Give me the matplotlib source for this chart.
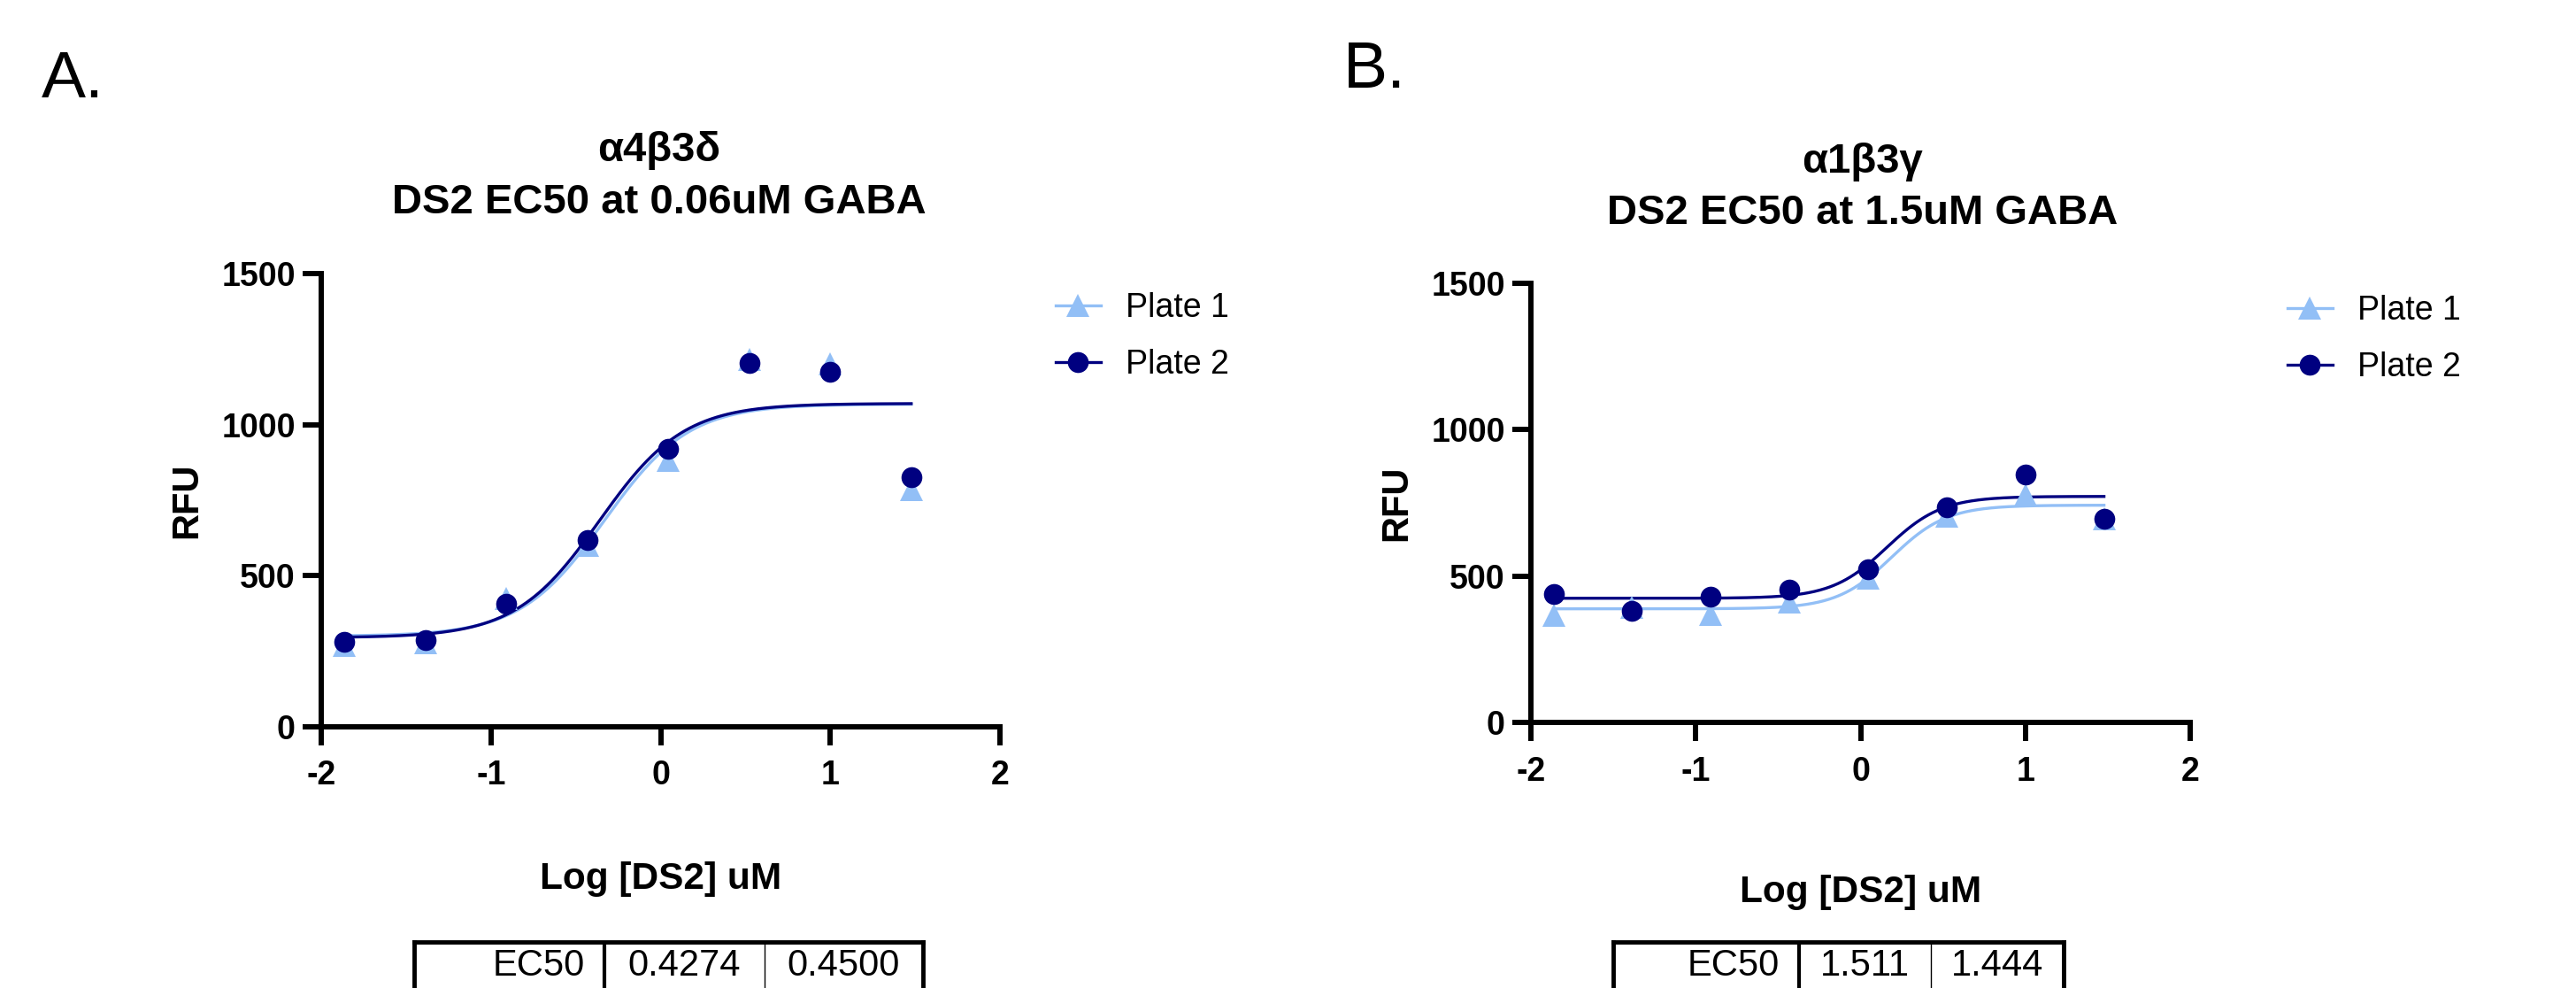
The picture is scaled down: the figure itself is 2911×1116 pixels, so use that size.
import numpy as np
import matplotlib
matplotlib.use("Agg")
import matplotlib.pyplot as plt
from matplotlib.lines import Line2D

# ---------------- data ----------------
log_conc = [-1.863, -1.386, -0.909, -0.431, 0.046, 0.523, 1.0, 1.477]

a_plate1 = [270, 278, 426, 600, 883, 1215, 1201, 785]
a_plate2 = [280, 287, 406, 617, 921, 1204, 1176, 825]
b_plate1 = [365, 392, 370, 410, 494, 705, 777, 695]
b_plate2 = [439, 380, 428, 454, 523, 735, 847, 697]

# 4-parameter logistic fit parameters: bottom, top, logEC50, hill slope
a_fit1 = [300, 1068, -0.33, 1.75]
a_fit2 = [295, 1070, -0.36, 1.75]
b_fit1 = [388, 742, 0.19, 2.6]
b_fit2 = [424, 772, 0.16, 2.6]

series_names = ["Plate 1", "Plate 2"]
a_title = ["α4β3δ", "DS2 EC50 at 0.06uM GABA"]
b_title = ["α1β3γ", "DS2 EC50 at 1.5uM GABA"]
table_row = "EC50"
a_ec50 = ["0.4274", "0.4500"]
b_ec50 = ["1.511", "1.444"]
x_ticks = [-2, -1, 0, 1, 2]
y_ticks = [0, 500, 1000, 1500]
panel_labels = ["A.", "B."]
x_label = "Log [DS2] uM"
y_label = "RFU"

# ---------------- style ----------------
W, H = 2911, 1116
DPI = 100
FONT = "Liberation Sans"
plt.rcParams["font.family"] = [FONT, "DejaVu Sans"]
C1 = "#92BFF6"
C2 = "#000080"
MS_TRI = 19
MS_CIR = 17

fig = plt.figure(figsize=(W / DPI, H / DPI), dpi=DPI)


def fx(px):
    return px / W


def fy(py):
    return 1 - py / H


def four_pl(x, p):
    bottom, top, logec, hill = p
    return bottom + (top - bottom) / (1 + 10 ** ((logec - x) * hill))


def panel(box, p1, p2, f1, f2, title, title_cx, title_y, xlabel_y, leg_xy, tab_box, ec50, letter_xy, letter):
    l, r, t, b = box
    ax = fig.add_axes([fx(l), fy(b), fx(r - l), (b - t) / H])
    ax.set_xlim(-2, 2)
    ax.set_ylim(0, 1500)
    for s in ["top", "right"]:
        ax.spines[s].set_visible(False)
    for s in ["left", "bottom"]:
        ax.spines[s].set_linewidth(4.3)
        ax.spines[s].set_capstyle("projecting")
    ax.set_xticks(x_ticks)
    ax.set_yticks(y_ticks)
    ax.set_xticklabels([str(v) for v in x_ticks])
    ax.tick_params(direction="out", length=15, width=4.3, labelsize=27)
    ax.tick_params(axis="x", pad=12)
    ax.tick_params(axis="y", pad=6)
    for lab in ax.get_xticklabels() + ax.get_yticklabels():
        lab.set_fontweight("bold")

    xs = np.linspace(min(log_conc), max(log_conc), 400)
    ax.plot(xs, four_pl(xs, f1), color=C1, lw=2.4, zorder=2)
    ax.plot(xs, four_pl(xs, f2), color=C2, lw=2.4, zorder=3)
    ax.plot(log_conc, p1, linestyle="none", marker="^", ms=MS_TRI, color=C1,
            markeredgewidth=0, zorder=4, clip_on=False)
    ax.plot(log_conc, p2, linestyle="none", marker="o", ms=MS_CIR, color=C2,
            markeredgewidth=0, zorder=5, clip_on=False)

    # axis labels
    cx = (l + r) / 2
    fig.text(fx(cx), fy(xlabel_y), x_label, ha="center", va="center",
             fontsize=30.5, fontweight="bold")
    fig.text(fx(l - 152), fy((t + b) / 2 + 0), y_label, ha="center", va="center",
             rotation=90, fontsize=30, fontweight="bold")

    # title
    fig.text(fx(title_cx), fy(title_y[0]), title[0], ha="center", va="baseline",
             fontsize=34, fontweight="bold")
    fig.text(fx(title_cx), fy(title_y[1]), title[1], ha="center", va="baseline",
             fontsize=34, fontweight="bold")

    # panel letter
    fig.text(fx(letter_xy[0]), fy(letter_xy[1]), letter, ha="left", va="baseline",
             fontsize=54, family=[FONT, "DejaVu Sans"])

    # legend
    handles = [
        Line2D([], [], color=C1, lw=2.4, marker="^", ms=MS_TRI, markeredgewidth=0),
        Line2D([], [], color=C2, lw=2.4, marker="o", ms=MS_CIR, markeredgewidth=0),
    ]
    fig.legend(handles, series_names, loc="upper left",
               bbox_to_anchor=(fx(leg_xy[0]), fy(leg_xy[1])),
               frameon=False, fontsize=27, handlelength=1.35, handletextpad=0.75,
               labelspacing=0.75, borderpad=0, borderaxespad=0)

    # EC50 table
    tl, c1, c2, tr, tt = tab_box
    tb = tt + 90
    tax = fig.add_axes([fx(tl), fy(tb), fx(tr - tl), (tb - tt) / H])
    tax.set_xlim(tl, tr)
    tax.set_ylim(tb, tt)
    tax.set_xticks([])
    tax.set_yticks([])
    for s in tax.spines.values():
        s.set_linewidth(3.5)
    tax.axvline(c1, color="black", lw=3.0)
    tax.axvline(c2, color="black", lw=1.0)
    ty = tt + 27
    tax.text(c1 - 22, ty, table_row, ha="right", va="center", fontsize=30)
    tax.text((c1 + c2) / 2, ty, ec50[0], ha="center", va="center", fontsize=30)
    tax.text((c2 + tr) / 2, ty, ec50[1], ha="center", va="center", fontsize=30)
    return ax


panel((363, 1130, 309, 821), a_plate1, a_plate2, a_fit1, a_fit2, a_title, 745,
      (182, 241), 993, (1193, 330), (468, 683, 864, 1043, 1064), a_ec50, (47, 110),
      panel_labels[0])
panel((1730, 2475, 320, 816), b_plate1, b_plate2, b_fit1, b_fit2, b_title, 2105,
      (195, 253), 1008, (2585, 333), (1823, 2033, 2182, 2332, 1064), b_ec50, (1518, 99),
      panel_labels[1])

fig.savefig("out.png", dpi=DPI)
